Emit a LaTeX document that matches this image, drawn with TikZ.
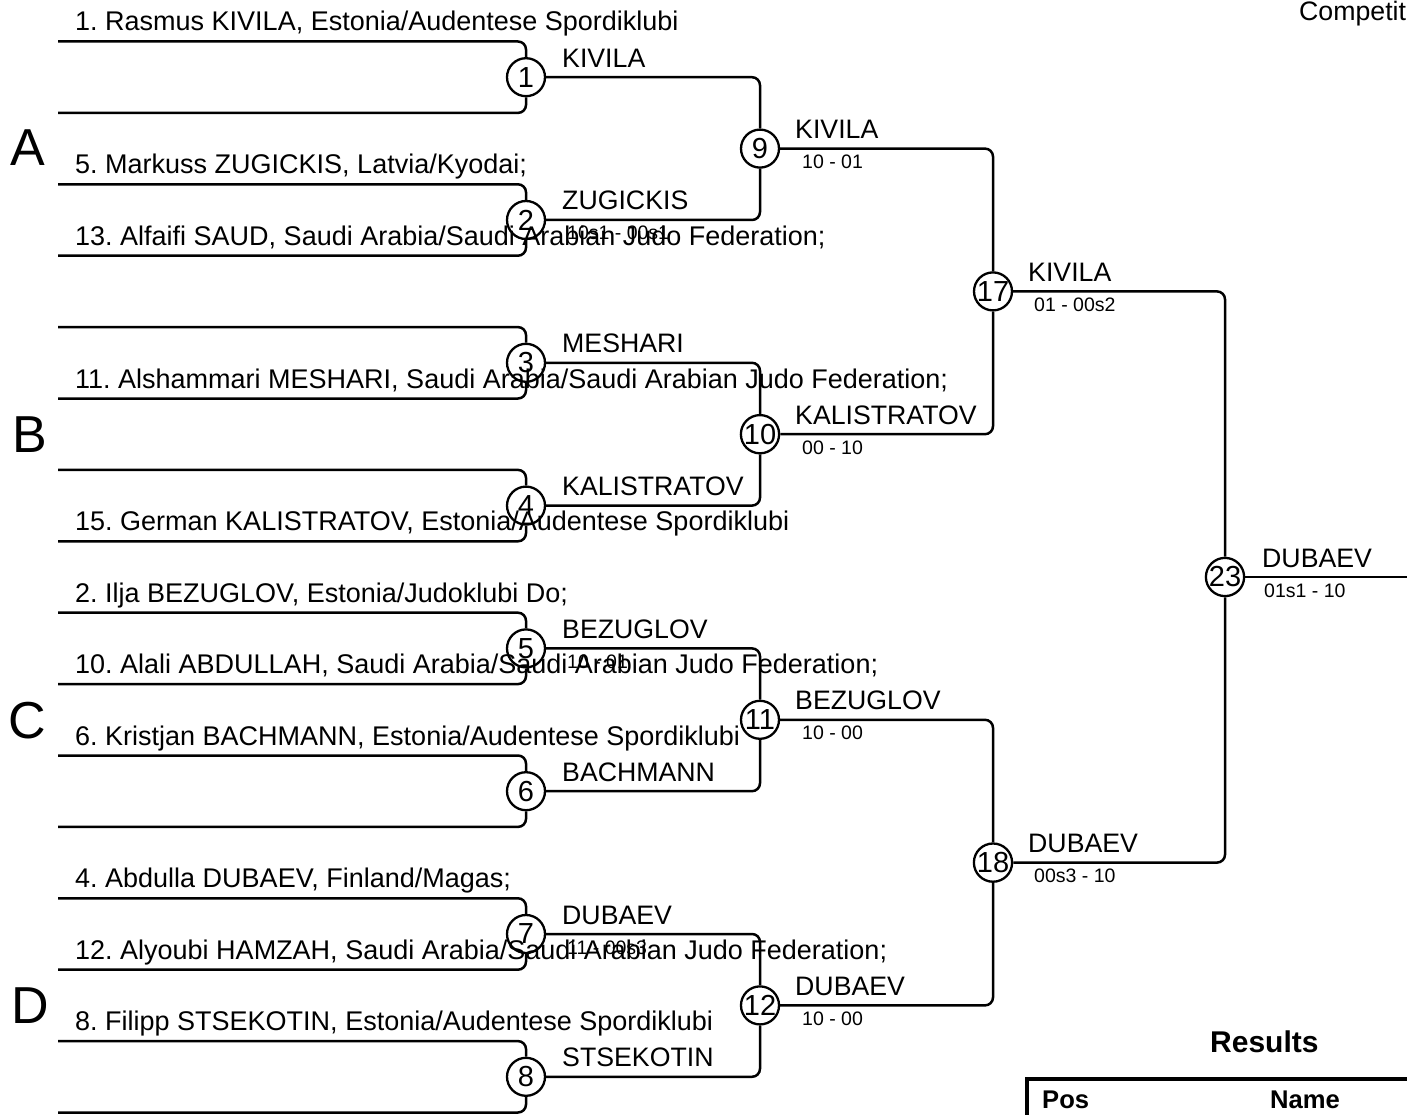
\documentclass[tikz,border=0pt]{standalone}
\usepackage{fontspec}
\setmainfont{Liberation Sans}
\frenchspacing
\begin{document}
\begin{tikzpicture}[x=1pt,y=-1pt,
  conn/.style={line width=2.5pt, rounded corners=8pt},
  match/.style={circle, draw, line width=2.3pt, minimum size=38pt, inner sep=0pt, font=\fontsize{29}{29}\selectfont},
  player/.style={anchor=base west, inner sep=0pt, font=\fontsize{27}{30}\selectfont},
  winner/.style={anchor=base west, inner sep=0pt, font=\fontsize{26.7}{30}\selectfont},
  score/.style={anchor=base west, inner sep=0pt, font=\fontsize{19.5}{22}\selectfont},
  pool/.style={anchor=base west, inner sep=0pt, font=\fontsize{52}{56}\selectfont},
  head/.style={anchor=base west, inner sep=0pt, font=\bfseries\fontsize{25.6}{28}\selectfont}]
\useasboundingbox (0,0) rectangle (1407,1115);
\clip (0,0) rectangle (1407,1115);

% match circles
\node[match] (m1) at (526,77.2) {1};
\node[match] (m2) at (526,220.0) {2};
\node[match] (m3) at (526,362.8) {3};
\node[match] (m4) at (526,505.6) {4};
\node[match] (m5) at (526,648.4) {5};
\node[match] (m6) at (526,791.2) {6};
\node[match] (m7) at (526,934.0) {7};
\node[match] (m8) at (526,1076.8) {8};
\node[match] (m9) at (760,148.6) {9};
\node[match] (m10) at (760,434.2) {10};
\node[match] (m11) at (760,719.8) {11};
\node[match] (m12) at (760,1005.4) {12};
\node[match] (m17) at (993,291.4) {17};
\node[match] (m18) at (993,862.6) {18};
\node[match] (m23) at (1225,577.0) {23};

% player lines
\foreach \i/\y/\m/\side in {0/41.5/1/north,1/112.9/1/south,2/184.3/2/north,3/255.7/2/south,
  4/327.1/3/north,5/398.5/3/south,6/469.9/4/north,7/541.3/4/south,
  8/612.7/5/north,9/684.1/5/south,10/755.5/6/north,11/826.9/6/south,
  12/898.3/7/north,13/969.7/7/south,14/1041.1/8/north,15/1112.5/8/south}{
  \coordinate (s\i) at (58,\y);
  \draw[conn] (s\i) -| (m\m.\side);
}

% winner connectors
\draw[conn] (m1.east) -| (m9.north);
\draw[conn] (m2.east) -| (m9.south);
\draw[conn] (m3.east) -| (m10.north);
\draw[conn] (m4.east) -| (m10.south);
\draw[conn] (m5.east) -| (m11.north);
\draw[conn] (m6.east) -| (m11.south);
\draw[conn] (m7.east) -| (m12.north);
\draw[conn] (m8.east) -| (m12.south);
\draw[conn] (m9.east) -| (m17.north);
\draw[conn] (m10.east) -| (m17.south);
\draw[conn] (m11.east) -| (m18.north);
\draw[conn] (m12.east) -| (m18.south);
\draw[conn] (m17.east) -| (m23.north);
\draw[conn] (m18.east) -| (m23.south);
\coordinate (fin) at (1412,577.0);
\draw[conn] (m23.east) -- (fin);

% player labels
\node[player] (p1) at (75,31) {1. Rasmus KIVILA, Estonia/Audentese Spordiklubi};
\node[player] (p5) at (75,173.8) {5. Markuss ZUGICKIS, Latvia/Kyodai;};
\node[player] (p13) at (75,245.2) {13. Alfaifi SAUD, Saudi Arabia/Saudi Arabian Judo Federation;};
\node[player] (p11) at (75,388) {11. Alshammari MESHARI, Saudi Arabia/Saudi Arabian Judo Federation;};
\node[player] (p15) at (75,530.8) {15. German KALISTRATOV, Estonia/Audentese Spordiklubi};
\node[player] (p2) at (75,602.2) {2. Ilja BEZUGLOV, Estonia/Judoklubi Do;};
\node[player] (p10) at (75,673.6) {10. Alali ABDULLAH, Saudi Arabia/Saudi Arabian Judo Federation;};
\node[player] (p6) at (75,745) {6. Kristjan BACHMANN, Estonia/Audentese Spordiklubi};
\node[player] (p4) at (75,887.8) {4. Abdulla DUBAEV, Finland/Magas;};
\node[player] (p12) at (75,959.2) {12. Alyoubi HAMZAH, Saudi Arabia/Saudi Arabian Judo Federation;};
\node[player] (p8) at (75,1030.6) {8. Filipp STSEKOTIN, Estonia/Audentese Spordiklubi};

% winners
\node[winner] (w1) at (562,67.2) {KIVILA};
\node[winner] (w2) at (562,210.0) {ZUGICKIS};
\node[winner] (w3) at (562,352.8) {MESHARI};
\node[winner] (w4) at (562,495.6) {KALISTRATOV};
\node[winner] (w5) at (562,638.4) {BEZUGLOV};
\node[winner] (w6) at (562,781.2) {BACHMANN};
\node[winner] (w7) at (562,924.0) {DUBAEV};
\node[winner] (w8) at (562,1066.8) {STSEKOTIN};
\node[winner] (w9) at (795,138.6) {KIVILA};
\node[winner] (w10) at (795,424.2) {KALISTRATOV};
\node[winner] (w11) at (795,709.8) {BEZUGLOV};
\node[winner] (w12) at (795,995.4) {DUBAEV};
\node[winner] (w17) at (1028,281.4) {KIVILA};
\node[winner] (w18) at (1028,852.6) {DUBAEV};
\node[winner] (w23) at (1262,567.0) {DUBAEV};

% scores
\node[score] (r2) at (567,240.0) {10s1 - 00s1};
\node[score] (r5) at (567,668.4) {10 - 01};
\node[score] (r7) at (567,954.0) {11 - 00s3};
\node[score] (r9) at (802,168.6) {10 - 01};
\node[score] (r10) at (802,454.2) {00 - 10};
\node[score] (r11) at (802,739.8) {10 - 00};
\node[score] (r12) at (802,1025.4) {10 - 00};
\node[score] (r17) at (1034,311.4) {01 - 00s2};
\node[score] (r18) at (1034,882.6) {00s3 - 10};
\node[score] (r23) at (1264,597.0) {01s1 - 10};

% pool letters
\node[pool] (pa) at (10,166) {A};
\node[pool] (pb) at (12,452) {B};
\node[pool] (pc) at (8,738) {C};
\node[pool] (pd) at (11,1023) {D};

% header
\node[winner] (comp) at (1299,21) {Competit};

% results
\node[anchor=base west, inner sep=0pt, font=\bfseries\fontsize{30}{32}\selectfont] (res) at (1210,1052) {Results};
\coordinate (t1) at (1027,1120);
\coordinate (t2) at (1027,1079);
\coordinate (t3) at (1412,1079);
\draw[line width=4pt, line join=miter] (t1) -- (t2) -- (t3);
\node[head] (pos) at (1042,1108) {Pos};
\node[head] (nam) at (1270,1108) {Name};
\end{tikzpicture}
\end{document}
